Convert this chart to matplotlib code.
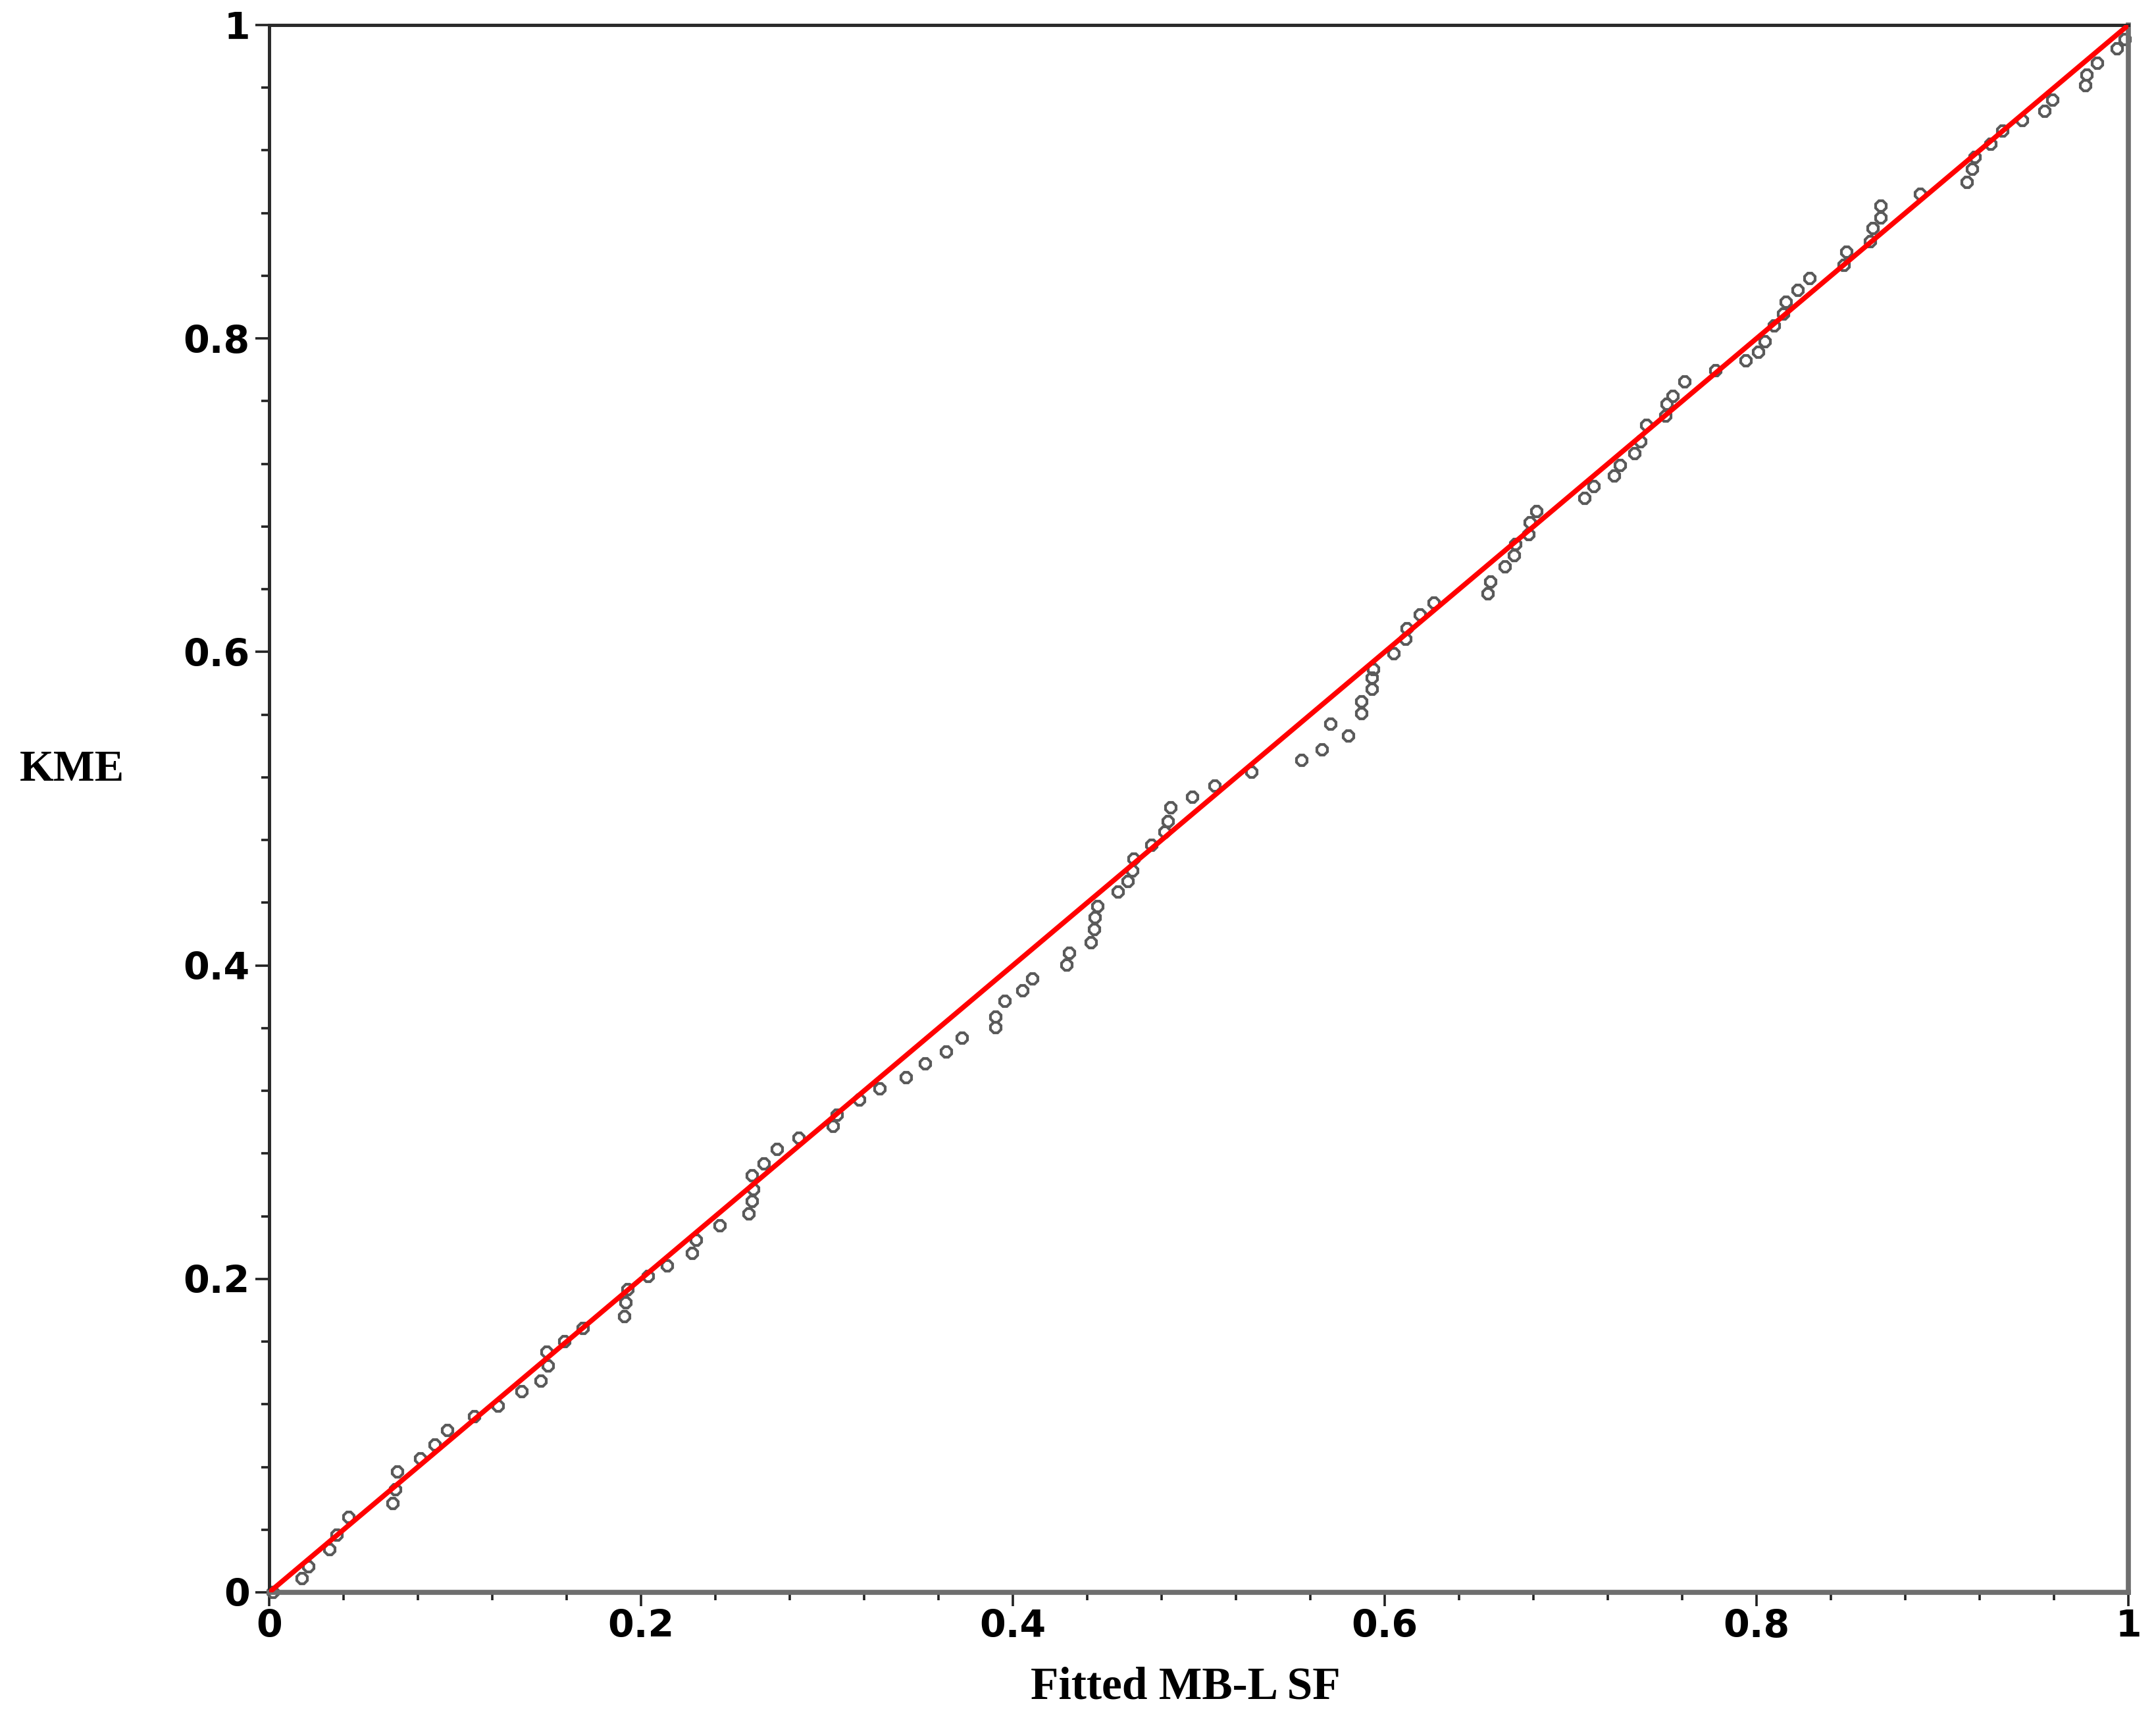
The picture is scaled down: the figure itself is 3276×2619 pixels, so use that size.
import matplotlib
matplotlib.use("Agg")
import matplotlib.pyplot as plt
from matplotlib.ticker import FixedLocator, MultipleLocator

# ---- data ----
fitted_sf = [0.002, 0.0177, 0.0213, 0.0324, 0.0363, 0.0427, 0.0664, 0.068, 0.0692, 0.0814,
             0.0893, 0.0961, 0.1106, 0.1233, 0.1359, 0.1462, 0.150, 0.1493, 0.1588, 0.169,
             0.1912, 0.192, 0.1928, 0.2039, 0.2141, 0.2276,
             0.2297, 0.2424, 0.2582, 0.2598, 0.2606, 0.2598, 0.2661, 0.2732, 0.285, 0.3032,
             0.3056, 0.3174, 0.3285, 0.3427, 0.353, 0.3641, 0.3728, 0.3909, 0.3909, 0.3957,
             0.4052,
             0.4107, 0.4289, 0.4304, 0.4423, 0.4439, 0.4444, 0.4455, 0.4565, 0.4621, 0.4644,
             0.4652, 0.4747, 0.4818, 0.4834, 0.485, 0.4968, 0.5087, 0.5284, 0.5553, 0.5664,
             0.5806, 0.5711, 0.5877, 0.5877,
             0.5933, 0.5933, 0.594,
             0.6049, 0.6112, 0.612, 0.6191, 0.6267, 0.6555, 0.657, 0.6649, 0.6697, 0.6705,
             0.6776, 0.6784, 0.6816, 0.7077, 0.7124, 0.7234, 0.7266, 0.7345, 0.7377, 0.7408,
             0.7511, 0.7519, 0.755, 0.7614, 0.778, 0.7945,
             0.8011, 0.8046, 0.8095, 0.8145, 0.8159, 0.8223, 0.8286, 0.847, 0.8484, 0.8611,
             0.8625, 0.8668, 0.8668, 0.888, 0.9134, 0.9162, 0.9176, 0.9261, 0.9325, 0.9431,
             0.9551, 0.9593, 0.977, 0.9777, 0.9834, 0.994, 0.9982]
kme = [0.0, 0.0087, 0.0162, 0.0274, 0.0364, 0.0477, 0.0567, 0.0657, 0.077, 0.0852,
       0.0942, 0.1032, 0.1122, 0.119, 0.128, 0.1347, 0.1444, 0.1534, 0.1602, 0.1684,
       0.176, 0.185, 0.1932, 0.2014, 0.2082, 0.2164,
       0.2248, 0.2338, 0.2413, 0.2495, 0.257, 0.266, 0.2735, 0.2825, 0.29, 0.2975,
       0.3043, 0.314, 0.3215, 0.3283, 0.3373, 0.3448, 0.3538, 0.3604, 0.3672, 0.377,
       0.3837,
       0.3913, 0.4003, 0.4078, 0.4145, 0.4228, 0.4303, 0.4378, 0.4468, 0.4535, 0.4603,
       0.4678, 0.4768, 0.485, 0.4918, 0.5008, 0.5075, 0.5143, 0.5233, 0.5308, 0.5375,
       0.5465, 0.554, 0.5608, 0.5683,
       0.5764, 0.5834, 0.589,
       0.599, 0.608, 0.6148, 0.6238, 0.6313, 0.6373, 0.6448, 0.6545, 0.6613, 0.6688,
       0.6748, 0.6823, 0.6898, 0.698, 0.7055, 0.7123, 0.719, 0.7265, 0.734, 0.7445,
       0.7505, 0.758, 0.7633, 0.7724, 0.7794, 0.786,
       0.7914, 0.7981, 0.8081, 0.8157, 0.8232, 0.8308, 0.8383, 0.8467, 0.8551, 0.8618,
       0.8702, 0.8769, 0.8844, 0.892, 0.8995, 0.9079, 0.9154, 0.9238, 0.9322, 0.9389,
       0.9448, 0.9523, 0.9615, 0.9682, 0.9758, 0.985, 0.9908]

line_x = [0.0, 1.0]
line_y = [0.0, 1.0]

tick_values = [0.0, 0.2, 0.4, 0.6, 0.8, 1.0]
tick_labels = ["0", "0.2", "0.4", "0.6", "0.8", "1"]

x_label = "Fitted MB-L SF"
y_label = "KME"

# ---- figure ----
W, H = 3276, 2619
fig = plt.figure(figsize=(W / 100, H / 100), dpi=100)
ax = fig.add_axes([409 / W, 1 - 2419 / H, (3234 - 409) / W, (2419 - 38) / H])

ax.plot(fitted_sf, kme, linestyle="none", marker="8", markersize=13,
        markerfacecolor="none", markeredgecolor="#5a5a5a", markeredgewidth=3.0,
        zorder=2, clip_on=False)
ax.plot(line_x, line_y, color="#ff0000", linewidth=5.5, zorder=3,
        solid_capstyle="butt")

ax.set_xlim(0, 1)
ax.set_ylim(0, 1)

ax.xaxis.set_major_locator(FixedLocator(tick_values))
ax.yaxis.set_major_locator(FixedLocator(tick_values))
ax.set_xticklabels(tick_labels)
ax.set_yticklabels(tick_labels)
ax.xaxis.set_minor_locator(MultipleLocator(0.04))
ax.yaxis.set_minor_locator(MultipleLocator(0.04))

ax.tick_params(which="major", direction="out", length=15, width=2.6,
               color="#222222", top=False, right=False)
ax.tick_params(which="minor", direction="out", length=8.5, width=2.6,
               color="#222222", top=False, right=False)
ax.tick_params(axis="x", which="major", pad=3)
ax.tick_params(axis="y", which="major", pad=6)

for lab in ax.get_xticklabels() + ax.get_yticklabels():
    lab.set_fontfamily("DejaVu Sans")
    lab.set_fontweight("bold")
    lab.set_fontsize(41)
    lab.set_color("black")

for side in ("left", "top"):
    ax.spines[side].set_color("#2b2b2b")
    ax.spines[side].set_linewidth(3.6)
for side in ("bottom", "right"):
    ax.spines[side].set_color("#6e6e6e")
    ax.spines[side].set_linewidth(5.5)

ax.set_xlabel(x_label, fontfamily="Liberation Serif", fontweight="bold",
              fontsize=50, va="center", ha="center")
ax.set_ylabel(y_label, fontfamily="Liberation Serif", fontweight="bold",
              fontsize=48, rotation=0, va="center", ha="center")
ax.xaxis.set_label_coords(0.493, -0.0605)
ax.yaxis.set_label_coords(-0.106, 0.5246)

fig.savefig("out.png", dpi=100, facecolor="white")
